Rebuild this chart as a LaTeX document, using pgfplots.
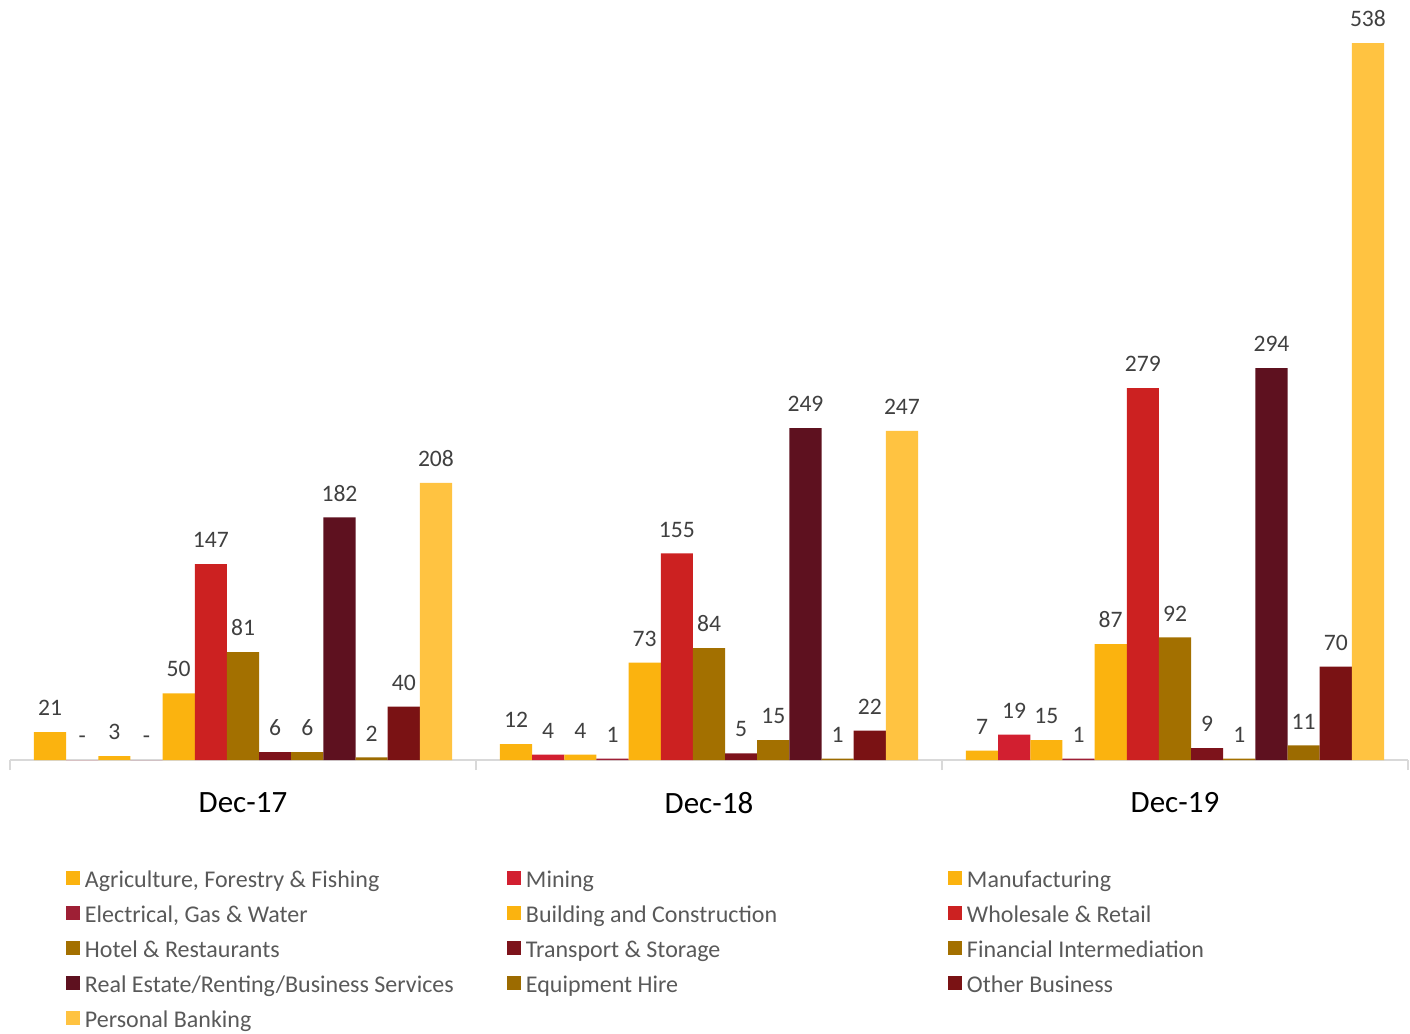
\documentclass[border=0pt]{standalone}
\usepackage{fontspec}
\setmainfont{Carlito}
\usepackage{pgfplots}
\pgfplotsset{compat=1.18}
\definecolor{cAgri}{HTML}{FBB30F}
\definecolor{cMin}{HTML}{D21F30}
\definecolor{cMan}{HTML}{FBB30F}
\definecolor{cEle}{HTML}{9E1F35}
\definecolor{cBui}{HTML}{FBB30F}
\definecolor{cWho}{HTML}{CC2121}
\definecolor{cHot}{HTML}{A37000}
\definecolor{cTra}{HTML}{7D131B}
\definecolor{cFin}{HTML}{A37000}
\definecolor{cRea}{HTML}{5E111F}
\definecolor{cEqu}{HTML}{9C6B00}
\definecolor{cOth}{HTML}{7A1214}
\definecolor{cPer}{HTML}{FFC341}
\definecolor{valgray}{HTML}{404040}
\definecolor{leggray}{HTML}{595959}
\definecolor{axgray}{HTML}{D9D9D9}
\newcommand{\LE}[1]{\makebox[211pt][l]{#1}}
\begin{document}
\begin{tikzpicture}
\useasboundingbox (0,0) rectangle (705pt,517pt);
\begin{axis}[
  at={(5pt,137pt)}, anchor=south west,
  scale only axis, width=699pt, height=359pt,
  xmin=-0.5, xmax=2.5, ymin=0, ymax=538.75,
  ybar=0pt, bar width=16.08pt,
  axis x line*=bottom, axis y line=none,
  x axis line style={draw=axgray, line width=0.8pt, -},
  xtick={0,1,2}, xticklabels={Dec-17,Dec-18,Dec-19},
  major x tick style={draw=none}, major tick length=0pt,
  minor xtick={-0.5,0.5,1.5,2.5}, minor tick length=5pt,
  minor x tick style={draw=axgray, line width=0.8pt},
  tick align=outside,
  xticklabel style={font=\fontsize{15.5}{18}\selectfont, text=black, yshift=-12.5pt},
  point meta=explicit symbolic,
  nodes near coords={\pgfplotspointmeta},
  nodes near coords style={font=\fontsize{11.8}{13}\selectfont, text=valgray, anchor=south, yshift=4.6pt},
  legend columns=3, legend cell align=left,
  legend image code/.code={\fill[#1] (0pt,-1.3pt) rectangle (7pt,5.7pt);},
  legend style={draw=none, fill=none, inner sep=0pt, outer sep=0pt,
    at={(0.04006,-0.1532)}, anchor=north west,
    font=\fontsize{12}{14}\selectfont, text=leggray,
    row sep=5.5pt,
    nodes={inner sep=0pt, text height=9pt, text depth=3pt},
    /tikz/every odd column/.style={column sep=2.5pt}},
]
\addplot[fill=cAgri, draw=none] coordinates {(0,21)[21] (1,12)[12] (2,7)[7]};
\addlegendentry{\LE{Agriculture, Forestry \& Fishing}}
\addplot[fill=cMin, draw=none] coordinates {(0,0)[-] (1,4)[4] (2,19)[19]};
\addlegendentry{\LE{Mining}}
\addplot[fill=cMan, draw=none] coordinates {(0,3)[3] (1,4)[4] (2,15)[15]};
\addlegendentry{\LE{Manufacturing}}
\addplot[fill=cEle, draw=none] coordinates {(0,0)[-] (1,1)[1] (2,1)[1]};
\addlegendentry{\LE{Electrical, Gas \& Water}}
\addplot[fill=cBui, draw=none] coordinates {(0,50)[50] (1,73)[73] (2,87)[87]};
\addlegendentry{\LE{Building and Construction}}
\addplot[fill=cWho, draw=none] coordinates {(0,147)[147] (1,155)[155] (2,279)[279]};
\addlegendentry{\LE{Wholesale \& Retail}}
\addplot[fill=cHot, draw=none] coordinates {(0,81)[81] (1,84)[84] (2,92)[92]};
\addlegendentry{\LE{Hotel \& Restaurants}}
\addplot[fill=cTra, draw=none] coordinates {(0,6)[6] (1,5)[5] (2,9)[9]};
\addlegendentry{\LE{Transport \& Storage}}
\addplot[fill=cFin, draw=none] coordinates {(0,6)[6] (1,15)[15] (2,1)[1]};
\addlegendentry{\LE{Financial Intermediation}}
\addplot[fill=cRea, draw=none] coordinates {(0,182)[182] (1,249)[249] (2,294)[294]};
\addlegendentry{\LE{Real Estate/Renting/Business Services}}
\addplot[fill=cEqu, draw=none] coordinates {(0,2)[2] (1,1)[1] (2,11)[11]};
\addlegendentry{\LE{Equipment Hire}}
\addplot[fill=cOth, draw=none] coordinates {(0,40)[40] (1,22)[22] (2,70)[70]};
\addlegendentry{\LE{Other Business}}
\addplot[fill=cPer, draw=none] coordinates {(0,208)[208] (1,247)[247] (2,538)[538]};
\addlegendentry{\LE{Personal Banking}}
\end{axis}
\end{tikzpicture}
\end{document}
